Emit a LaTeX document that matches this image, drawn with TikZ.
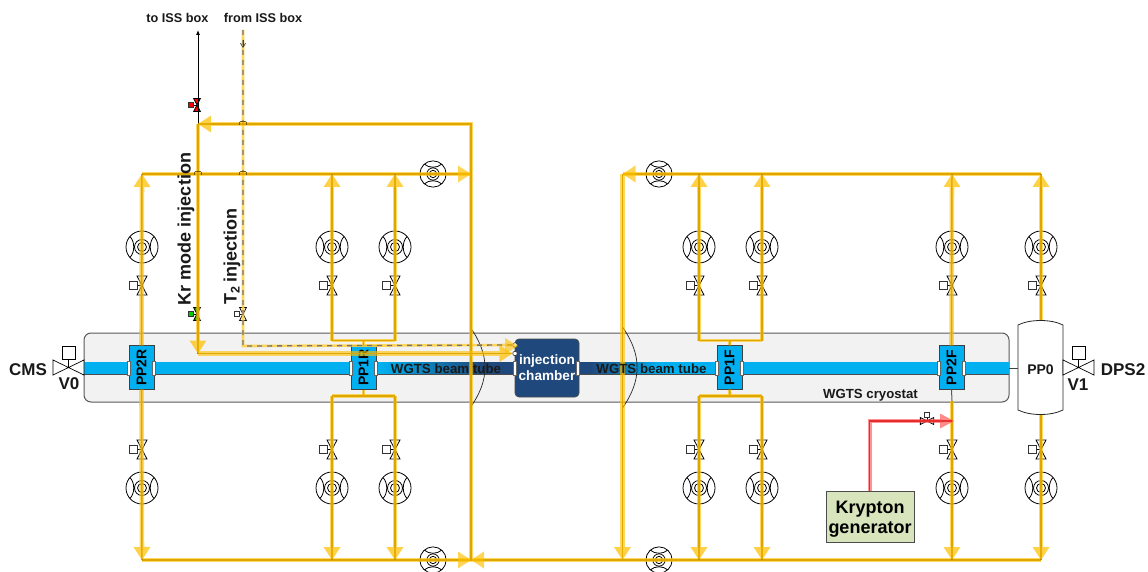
\documentclass[tikz,border=0pt]{standalone}
\usepackage{fontspec}
\setmainfont{Liberation Sans}
\usetikzlibrary{arrows.meta,calc}
\definecolor{pipeY}{HTML}{FFC000}
\definecolor{pipeC}{HTML}{A67C00}
\definecolor{tubeB}{HTML}{00B0F0}
\definecolor{navy}{HTML}{1F497D}
\definecolor{cryo}{HTML}{F2F2F2}
\definecolor{krbox}{HTML}{D8E4BC}
\newcommand{\fsz}[1]{\fontsize{#1}{#1}\selectfont\bfseries}
\tikzset{
  pipecore/.style={draw=pipeC,line width=1.5pt},
  pipeglow/.style={draw=pipeY,line width=4.6pt,draw opacity=.62,fill opacity=.72},
  tip/.style={-{Triangle[length=13pt,width=17pt,line width=0pt]}},
  thinglow/.style={draw=pipeY,line width=3.6pt,draw opacity=.62},
  ppbox/.style={draw=black!75,line width=.9pt,fill=tubeB,minimum width=25pt,minimum height=43.5pt,inner sep=0pt},
  flange/.style={draw=black!60,fill=white,line width=.6pt,minimum width=3pt,minimum height=14pt,inner sep=0pt},
  lab/.style={inner sep=0pt,text=black!90},
  pics/pump/.style={code={
    \draw[line width=.8pt,fill=white] (0,0) circle (16);
    \draw[line width=.8pt] (0,0) circle (7.5) (0,0) circle (4.5);
    \draw[line width=.8pt] (-12,-10.5) .. controls (-7,-5) and (-7,5) .. (-12,10.5);
    \draw[line width=.8pt] (12,-10.5) .. controls (7,-5) and (7,5) .. (12,10.5);
  }},
  pics/valve/.style n args={2}{code={
    \draw[line width=.8pt,fill=#1] (-5,-9.5)--(5,-9.5)--(-5,9.5)--(5,9.5)--cycle;
    \draw[line width=.8pt] (0,0)--(-5,0);
    \draw[line width=.8pt,fill=#2,draw=black!80] (-13,-4) rectangle (-5,4);
  }}
}
\newcommand{\pipe}[2][tip]{\draw[pipecore] #2; \draw[pipeglow,#1] #2;}
\newcommand{\hop}[1]{\draw[pipeC!70!black,line width=.7pt] ($(#1)+(-3.5,1)$) -- ++(0,-2.5) -- ++(1,-1) -- ++(5,0) -- ++(1,1) -- ++(0,2.5);}
\begin{document}
\begin{tikzpicture}[x=1pt,y=-1pt]
\useasboundingbox (0,0) rectangle (1148,572);
\fill[white] (0,0) rectangle (1148,572);

% cryostat and tube
\draw[draw=black!65,fill=cryo,line width=1pt,rounded corners=7pt] (84,333) rectangle (1009,402);
\fill[tubeB] (84,362) rectangle (1009,374);
\shade[left color=tubeB,right color=navy] (380,362) rectangle (480,374);
\fill[navy] (480,362) rectangle (590,374);
\shade[left color=navy,right color=tubeB] (590,362) rectangle (660,374);
\draw[black!70,line width=1pt] (84,374.3) -- (1009,374.3);

% boxes on the tube
\node[ppbox] (pp2r) at (141.5,367.5) {\rotatebox{90}{\fsz{14}PP2R}};
\node[ppbox] (pp1r) at (363.5,367.5) {\rotatebox{90}{\fsz{14}PP1R}};
\node[ppbox] (pp1f) at (729.5,367.5) {\rotatebox{90}{\fsz{14}PP1F}};
\node[ppbox] (pp2f) at (951.5,367.5) {\rotatebox{90}{\fsz{14}PP2F}};
\foreach \n/\x in {a/129,b/154,c/351,d/376,e/717,f/742,g/939,h/964}
  \node[flange] (fl\n) at (\x,368) {};

% chamber
\draw[black!85,line width=.7pt] (470,327) .. controls (490,355) and (490,380) .. (470,408);
\draw[black!85,line width=.7pt] (622.5,327) .. controls (642,355) and (642,380) .. (622.5,408);
\node[draw=black!70,line width=.7pt,fill=navy,rounded corners=4pt,minimum width=64pt,minimum height=58pt,inner sep=0pt,align=center,text=white] (chamber) at (547,368) {\fsz{13.6}injection\\[2.5pt]\fsz{13.6}chamber};
\node[flange] (fli) at (515,368) {};
\node[flange] (flj) at (578,368) {};
\node[circle,draw=black!80,fill=white,inner sep=0pt,minimum size=4.5pt,line width=.6pt] (portA) at (515,345) {};
\node[circle,draw=black!80,fill=white,inner sep=0pt,minimum size=4.5pt,line width=.6pt] (portB) at (515,353.5) {};

% PP0
\draw[black!85,line width=.8pt,fill=white] (1018,325) .. controls (1030,319) and (1051,319) .. (1063,325) -- (1063,410) .. controls (1051,416) and (1030,416) .. (1018,410) -- cycle;
\node[lab] (pp0) at (1040.5,369.5) {\fsz{14}PP0};
\draw[black!75,line width=.8pt] (1009,368) -- (1018,368);

% gate valves V0, V1
\draw[line width=.7pt,fill=white] (53,360)--(84,375)--(84,360)--(53,375)--cycle;
\draw[line width=.7pt,fill=white] (1063,360)--(1094,375)--(1094,360)--(1063,375)--cycle;
\draw[line width=.7pt] (68.5,367.5)--(68.5,359);
\draw[line width=.7pt] (1078.5,367.5)--(1078.5,359);
\node[draw=black,line width=.7pt,fill=white,minimum size=13pt,inner sep=0pt] (v0box) at (69,352.5) {};
\node[draw=black,line width=.7pt,fill=white,minimum size=13pt,inner sep=0pt] (v1box) at (1079,352.5) {};

% pumps
\foreach \x in {142,332,395,699,762,952,1041}{
  \pic at (\x,247) {pump};
  \pic at (\x,488) {pump};
  \pic at (\x,285.5) {valve={white}{white}};
  \pic at (\x,449.5) {valve={white}{white}};
}
\pic[scale=.82,rotate=90] at (433,174) {pump};
\pic[scale=.82,rotate=90] at (659,174) {pump};
\pic[scale=.82,rotate=90] at (433,560) {pump};
\pic[scale=.82,rotate=90] at (659,560) {pump};

% small valves
\pic[scale=.68] at (197,105) {valve={red}{red}};
\pic[scale=.68] at (197,314) {valve={green!70!black}{green!80!black}};
\pic[scale=.68] at (243,314) {valve={white}{white}};

% krypton
\node[draw=black!70,line width=1pt,fill=krbox,minimum width=88pt,minimum height=51pt,inner sep=0pt,align=center,text depth=0pt] (kr) at (870,516.5) {\raisebox{-1.5pt}{\fsz{18}Krypton}\\[4pt]\raisebox{-1.5pt}{\fsz{18}generator}};
\coordinate (krc) at (869.5,421);
\coordinate (krend) at (952,421);
\pic[scale=.7,rotate=-90] at (927,421) {valve={white}{white}};

% junctions
\coordinate (tl) at (142,174); \coordinate (tr) at (471,174);
\coordinate (bl) at (142,560); \coordinate (bm) at (471,560);
\coordinate (rbm) at (622.5,560); \coordinate (rtm) at (622.5,174);
\coordinate (rr) at (1041,174); \coordinate (br) at (1041,560);
\coordinate (krt) at (198,124); \coordinate (krtr) at (471,124);
\coordinate (krb) at (198,353.5);
\coordinate (iss) at (198,30); \coordinate (isf) at (243,30);
\coordinate (t2b) at (243,346);

% black and T2 lines
\draw[black,line width=.8pt,-{Latex[length=5pt,width=4pt]}] (krt) -- (iss);
\draw[pipeY!75!white,line width=2.6pt,opacity=.85] (isf) -- (t2b) -- (portA);
\draw[black!55,line width=1.3pt,dash pattern=on 5pt off 5pt] (isf) -- (t2b) -- (portA);
\draw[black!75,line width=.7pt,-{Straight Barb[length=4pt,width=5pt]}] (243,40) -- (243,48);
\fill[pipeY,opacity=.6] (518,346) -- (505,338) -- (505,354) -- cycle;

% manifolds
\draw[pipecore] (tl) -- (tr);
\draw[thinglow] (tl) -- (tr);
\draw[pipecore] (bl) -- (bm);
\draw[thinglow] (bl) -- (bm);
\draw[pipecore] (br) -- (bm);
\draw[thinglow] (br) -- (bm);
\draw[pipecore] (rr) -- (rtm);
\draw[thinglow] (rr) -- (rtm);
\foreach \p/\a in {{(471,174)}/0,{(471,560)}/0,{(471,560)}/180,{(622.5,174)}/180}{
  \fill[pipeY,opacity=.65,shift={\p},rotate=\a] (0,0) -- (-13,-8.5) -- (-13,8.5) -- cycle;
}

% verticals to upper manifolds
\pipe{(pp2r.north) -- (tl)}
\pipe[thinglow]{(332,340.5) -- (395,340.5)}
\pipe[thinglow]{(pp1r.north) -- (363.5,340.5)}
\pipe{(332,340.5) -- (332,174)}
\pipe{(395,340.5) -- (395,174)}
\pipe[thinglow]{(699,340.5) -- (762,340.5)}
\pipe[thinglow]{(pp1f.north) -- (730,340.5)}
\pipe{(699,340.5) -- (699,174)}
\pipe{(762,340.5) -- (762,174)}
\pipe{(pp2f.north) -- (952,174)}
\pipe{(1041,320) -- (rr)}

% verticals to lower manifolds
\pipe{(pp2r.south) -- (bl)}
\pipe[thinglow]{(pp1r.south) -- (363.5,396)}
\pipe[thinglow]{(332,396) -- (395,396)}
\pipe{(332,396) -- (332,560)}
\pipe{(395,396) -- (395,560)}
\pipe[thinglow]{(pp1f.south) -- (730,396)}
\pipe[thinglow]{(699,396) -- (762,396)}
\pipe{(699,396) -- (699,560)}
\pipe{(762,396) -- (762,560)}
\draw[black!65,line width=1pt] (pp2f.south) -- (952,401);
\pipe{(952,401) -- (952,560)}
\pipe{(1041,415) -- (br)}
\pipe{(rtm) -- (rbm)}

% main injection loop
\pipe{(bm) -- (krtr) -- (krt)}
\pipe{(krt) -- (krb)}
\pipe{(krb) -- (portB)}

% krypton line
\draw[red!75!black,line width=1.4pt] (kr.north -| krc) -- (krc) -- (krend);
\draw[red!70!white,line width=4pt,opacity=.6] (kr.north -| krc) -- (krc) -- (941,421);
\fill[red!70!white,opacity=.65] (954,421) -- (940,413.5) -- (940,428.5) -- cycle;

% crossings
\hop{243,124} \hop{243,174} \hop{198,174}

% labels
\node[lab] (toiss) at (177.5,18) {\fsz{12.7}to ISS box};
\node[lab] (fromiss) at (263,18) {\fsz{12.7}from ISS box};
\node[lab,rotate=90] (krinj) at (186,229) {\fsz{18}Kr mode injection};
\node[lab,rotate=90] (t2inj) at (232,256.5) {\fsz{18}T\raisebox{-3pt}{\fsz{12.5}2} injection};
\node[lab] (cms) at (28,370) {\fsz{17}CMS};
\node[lab] (dps) at (1123,370) {\fsz{17}DPS2};
\node[lab] (v0) at (69,384) {\fsz{17}V0};
\node[lab] (v1) at (1078,385) {\fsz{17}V1};
\node[lab] (b1) at (446,368.5) {\fsz{13.3}WGTS beam tube};
\node[lab] (b2) at (651.5,368.5) {\fsz{13.3}WGTS beam tube};
\node[lab] (cry) at (870.5,395) {\fsz{13.2}WGTS cryostat};
\end{tikzpicture}
\end{document}
